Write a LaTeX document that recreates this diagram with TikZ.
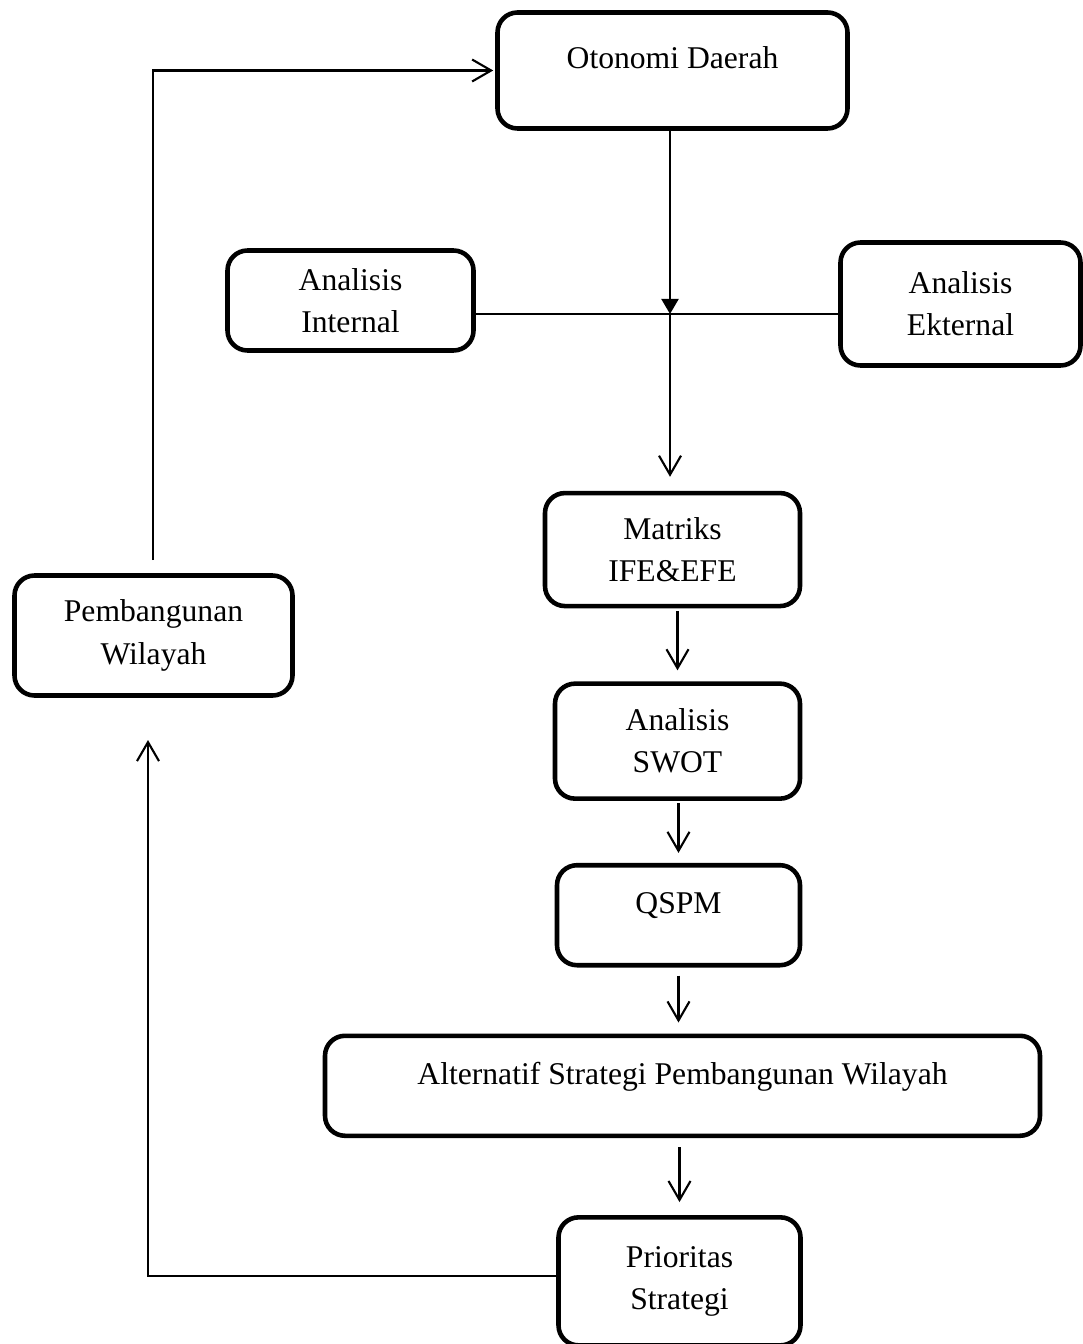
\documentclass[tikz,border=0pt]{standalone}
\usepackage{fontspec}
\setmainfont{Liberation Serif}
\usetikzlibrary{arrows.meta, positioning}

\begin{document}
\begin{tikzpicture}[node distance=1.4cm, part/.style={
        rectangle,
        rounded corners=0.4cm,
        draw=black,
        text=black,
        line width=2.6pt,
        align=center,
        font=\fontsize{18}{24}\selectfont
    }, toptext/.style={
        text depth=0.5cm
    }, arrow/.style={
        line width=1.2pt, -{Straight Barb[length=0.38cm, width=0.44cm]}
    }, line/.style={
        line width=1.2pt
    }]
    \useasboundingbox (0,0) rectangle (21.66,-26.88);
    \node (otonomi) [part, toptext, minimum width=7.0cm, minimum height=2.32cm] at (13.45,-1.41) {Otonomi Daerah};
    \node (internal) [part, minimum width=4.92cm, minimum height=2.0cm] at (7.01,-6.01) {Analisis\\Internal};
    \node (ekternal) [part, minimum width=4.8cm, minimum height=2.46cm] at (19.21,-6.08) {Analisis\\Ekternal};
    \node (matriks) [part, minimum width=5.1cm, minimum height=2.26cm, below=7.2cm of otonomi] {Matriks\\IFE\&EFE};
    \node (swot) [part, minimum width=4.9cm, minimum height=2.3cm, below=1.46cm of matriks, xshift=0.1cm] {Analisis\\SWOT};
    \node (qspm) [part, toptext, minimum width=4.86cm, minimum height=2.0cm, below=1.24cm of swot, xshift=0.02cm] {QSPM};
    \node (alternatif) [part, toptext, minimum width=14.3cm, minimum height=2.0cm, below=1.32cm of qspm, xshift=0.08cm] {Alternatif Strategi Pembangunan Wilayah};
    \node (prioritas) [part, minimum width=4.84cm, minimum height=2.56cm, below=1.54cm of alternatif, xshift=-0.06cm] {Prioritas\\Strategi};
    \node (pembangunan) [part, minimum width=5.56cm, minimum height=2.4cm] at (3.07,-12.71) {Pembangunan\\Wilayah};
    \coordinate (j) at (13.4,-6.28);
    \coordinate (back) at (2.96,-14.8);
    \coordinate (up) at (3.06,-11.2);
    \draw [line, -{Triangle[length=0.3cm, width=0.34cm]}] (otonomi.south -| j) -- (j);
    \draw [line, line width=0.9pt] (internal.east |- j) -- (ekternal.west |- j);
    \draw [arrow, shorten >=0.28cm] (j) -- (j |- matriks.north);
    \draw [arrow, shorten <=0.05cm, shorten >=0.22cm] (matriks.south -| swot) -- (swot);
    \draw [arrow, shorten <=0.05cm, shorten >=0.2cm] (swot.south -| qspm) -- (qspm);
    \draw [arrow, shorten <=0.16cm, shorten >=0.22cm] (qspm) -- (qspm |- alternatif.north);
    \draw [arrow, shorten <=0.18cm, shorten >=0.26cm] (alternatif.south -| prioritas) -- (prioritas);
    \draw [arrow] ([yshift=0.1cm]prioritas.west) -| (back);
    \draw [arrow, shorten >=0.04cm] (up) |- (otonomi.west);

\end{tikzpicture}
\end{document}
